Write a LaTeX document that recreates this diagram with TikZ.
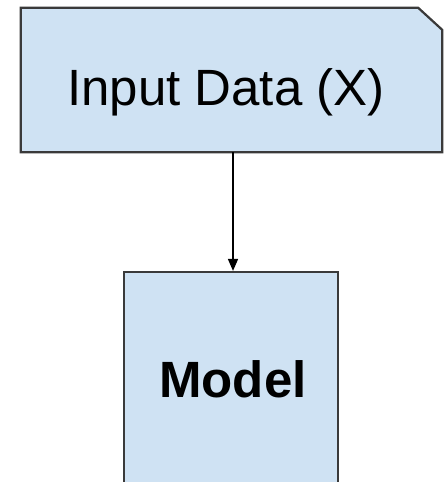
\documentclass[tikz,border=0pt]{standalone}
\usepackage{fontspec}
\setmainfont{Liberation Sans}
\usetikzlibrary{calc,arrows.meta}
\definecolor{boxfill}{HTML}{CFE2F3}
\definecolor{boxline}{HTML}{3A3A3A}
\begin{document}
\begin{tikzpicture}[
    x=1pt, y=-1pt,
    box/.style={draw=boxline,fill=boxfill,line width=2.2pt,inner sep=0pt},
    inbox/.style={rectangle,inner sep=0pt,minimum width=421pt,minimum height=144pt},
    modelbox/.style={box,rectangle,minimum width=214pt,minimum height=216pt},
    lbl/.style={anchor=base,inner sep=0pt,font=\fontsize{51}{61}\selectfont},
    >={Triangle[length=12pt,width=10pt]}
]
\clip (0,0) rectangle (444,482);
\node[inbox] (input) at (231.5,80) {};
% input box with its cut top right corner
\draw[box,line join=miter] (input.south west) |- ($(input.north east)+(-24,0)$)
    -- ($(input.north east)+(0,22)$) |- cycle;
\node[modelbox] (model) at (231,380) {};
\node[lbl] (inputlbl) at (226,105) {Input Data (X)};
\node[lbl,font=\fontsize{51}{61}\selectfont\bfseries] (modellbl) at (233,397) {Model};

\draw[->,line width=1.5pt,draw=black] ($(input.south)+(1.5,0)$) -- ($(input.south |- model.north)+(1.5,0)$);
\end{tikzpicture}
\end{document}
